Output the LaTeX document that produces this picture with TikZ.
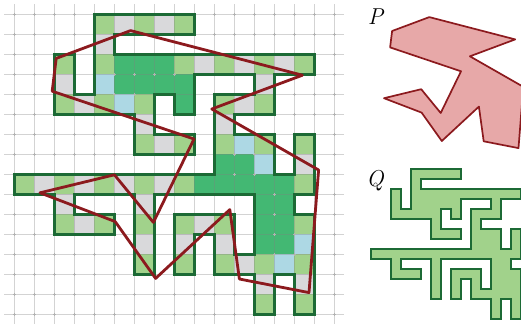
\documentclass[tikz,border=0pt]{standalone}
\usepackage[dvipsnames]{xcolor}
\definecolor{cell-light}{HTML}{A1D28B}
\definecolor{cell-gray}{HTML}{D9D9DB}
\definecolor{cell-dark}{HTML}{43B873}
\definecolor{cell-blue}{HTML}{ADD8E4}
\definecolor{omino-edge}{HTML}{1C6A35}
\definecolor{poly-red}{HTML}{8C1A1E}
\definecolor{poly-fill}{HTML}{E7A8A8}
\usepackage{tikz}
\tikzset{
  gridline/.style={draw=gray, opacity=0.35, line width=0.8pt},
  gridtick/.style={draw=black!30, line width=0.8pt,
    dash pattern=on 3pt off 17pt, dash phase=11.5pt},
  ominoline/.style={draw=omino-edge, line width=3pt},
  polyline/.style={draw=poly-red, line width=2.8pt, line join=round},
  pshape/.style={draw=poly-red, fill=poly-fill, line width=1.7pt, line join=round},
  qshape/.style={draw=omino-edge, fill=cell-light, line width=1.9pt},
  letter/.style={font=\fontsize{23}{23}\selectfont\itshape, inner sep=0pt, anchor=base},
}
% outline of the polyomino, in cell units (y downwards)
\newcommand{\ominopath}{(4,0) -- (9,0) -- (9,1) -- (5,1) -- (5,2) -- (15,2) -- (15,3)
  -- (13,3) -- (13,5) -- (11,5) -- (11,6) -- (13,6) -- (13,8) -- (14,8) -- (14,6)
  -- (15,6) -- (15,9) -- (14,9) -- (14,10) -- (15,10) -- (15,15) -- (14,15) -- (14,13)
  -- (13,13) -- (13,15) -- (12,15) -- (12,13) -- (10,13) -- (10,11) -- (9,11) -- (9,13)
  -- (8,13) -- (8,10) -- (11,10) -- (11,12) -- (12,12) -- (12,9) -- (7,9) -- (7,13)
  -- (6,13) -- (6,9) -- (3,9) -- (3,10) -- (5,10) -- (5,11) -- (2,11) -- (2,9) -- (0,9)
  -- (0,8) -- (10,8) -- (10,4) -- (12,4) -- (12,3) -- (9,3) -- (9,5) -- (8,5) -- (8,4)
  -- (7,4) -- (7,6) -- (9,6) -- (9,7) -- (6,7) -- (6,5) -- (2,5) -- (2,2) -- (3,2)
  -- (3,4) -- (4,4) -- cycle}
% the polygon, same units
\newcommand{\polypath}{(5.83,0.83) -- (14.42,3.06) -- (9.89,4.75) -- (15.23,7.8)
  -- (14.75,13.93) -- (11.27,13.25) -- (10.79,9.78) -- (7.08,13.22) -- (5.06,10.38)
  -- (1.3,8.94) -- (5.02,8.04) -- (6.97,10.42) -- (9.0,6.25) -- (1.91,3.86)
  -- (2.11,2.22) -- cycle}

\begin{document}
\begin{tikzpicture}[x=1pt, y=-1pt]
  \useasboundingbox (0,0) rectangle (521,325);
  \clip (0,0) rectangle (521,325);

  \begin{scope}[shift={(14,14)}, x=20pt, y=-20pt]
    \foreach \c/\r in {4/0,6/0,8/0,2/2,4/2,8/2,10/2,12/2,14/2,2/4,4/4,6/4,10/4,12/4,
      6/6,8/6,10/6,12/6,14/6,0/8,2/8,4/8,6/8,8/8,14/8,2/10,4/10,6/10,8/10,10/10,14/10,
      6/12,8/12,10/12,12/12,14/12,12/14,14/14}
      \fill[cell-light] (\c,\r) rectangle ++(1,1);
    \foreach \c/\r in {5/0,7/0,4/1,9/2,11/2,13/2,2/3,12/3,3/4,11/4,6/5,10/5,7/6,14/7,
      1/8,3/8,5/8,7/8,2/9,6/9,3/10,9/10,6/11,8/11,10/11,11/12,12/13,14/13}
      \fill[cell-gray] (\c,\r) rectangle ++(1,1);
    \foreach \c/\r in {5/2,6/2,7/2,5/3,6/3,7/3,8/3,8/4,10/7,11/7,9/8,10/8,11/8,12/8,13/8,
      12/9,13/9,12/10,13/10,12/11,13/11}
      \fill[cell-dark] (\c,\r) rectangle ++(1,1);
    \foreach \c/\r in {4/3,5/4,11/6,12/7,14/11,13/12}
      \fill[cell-blue] (\c,\r) rectangle ++(1,1);

    \foreach \c in {0,...,16} {
      \draw[gridline] (\c,-0.5) -- (\c,15.5);
      \draw[gridtick] (\c,-0.5) -- (\c,15.5);
    }
    \foreach \r in {0,...,15} {
      \draw[gridline] (-0.5,\r) -- (16.5,\r);
      \draw[gridtick] (-0.5,\r) -- (16.5,\r);
    }

    \draw[ominoline] \ominopath;
    \draw[polyline] \polypath;
  \end{scope}

  \begin{scope}[shift={(371,8.8)}, x=10pt, y=-10pt]
    \filldraw[pshape] \polypath;
  \end{scope}
  \begin{scope}[shift={(371,169.3)}, x=10pt, y=-10pt]
    \filldraw[qshape] \ominopath;
  \end{scope}

  \node[letter] (labP) at (375.5,24.2) {P};
  \node[letter] (labQ) at (375,186) {Q};
\end{tikzpicture}
\end{document}
